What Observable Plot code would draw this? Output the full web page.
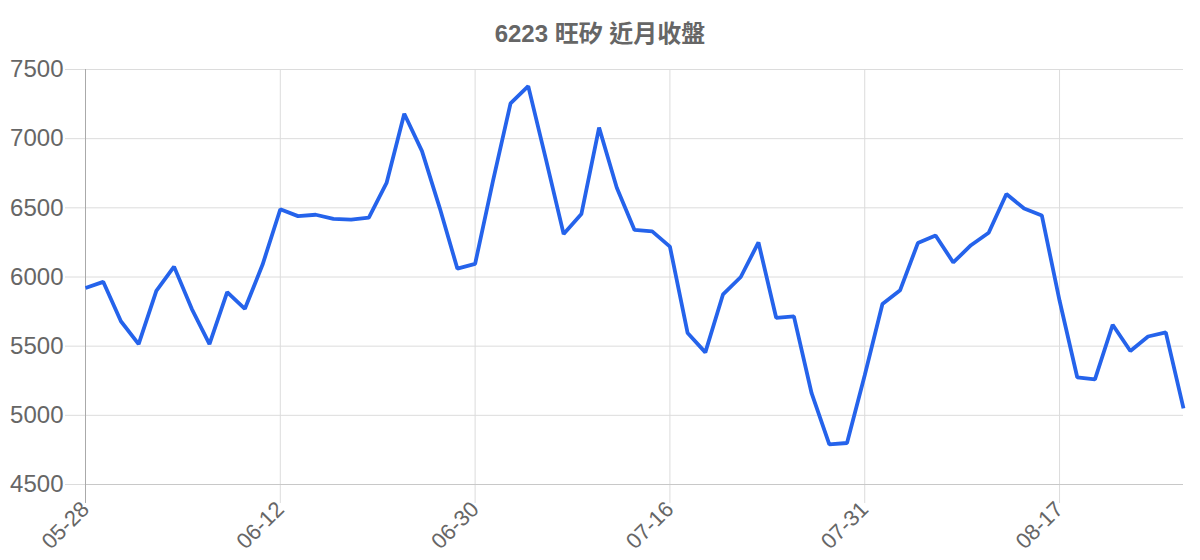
<!DOCTYPE html>
<html>
<head>
<meta charset="utf-8">
<script src="https://cdn.jsdelivr.net/npm/d3@7"></script>
<script src="https://cdn.jsdelivr.net/npm/@observablehq/plot@0.6"></script>
<style>
  html, body { margin: 0; padding: 0; background: #fff; }
  #title {
    height: 50px; box-sizing: border-box; padding-top: 21px;
    text-align: center; font: bold 24px/26px "Liberation Sans", Arial, "Noto Sans CJK TC", sans-serif;
    color: #666;
  }
  #chart svg { display: block; overflow: visible; }
</style>
</head>
<body>
<div id="title">6223 旺矽 近月收盤</div>
<div id="chart"></div>
<script>
// Closing prices (63 trading sessions)
const closes = [
  5920, 5965, 5680, 5515, 5900, 6075, 5770, 5515, 5890, 5770, 6090,
  6490, 6440, 6450, 6420, 6415, 6430, 6680, 7180, 6910, 6500, 6060,
  6095, 6690, 7255, 7380, 6850, 6310, 6455, 7080, 6645, 6340, 6330,
  6220, 5595, 5455, 5875, 6000, 6250, 5705, 5715, 5160, 4790, 4800,
  5290, 5805, 5905, 6245, 6300, 6105, 6230, 6320, 6600, 6495, 6445,
  5830, 5275, 5260, 5655, 5465, 5570, 5600, 5050
];
// x tick labels and the session index they sit on
const xTickLabels = ["05-28", "06-12", "06-30", "07-16", "07-31", "08-17"];
const xTickIndex = [0, 11, 22, 33, 44, 55];
const yTicks = [4500, 5000, 5500, 6000, 6500, 7000, 7500];

const data = closes.map((v, i) => ({i, v}));
const labelOf = new Map(xTickIndex.map((k, j) => [k, xTickLabels[j]]));

const chart = Plot.plot({
  width: 1200,
  height: 510,
  marginTop: 19,
  marginBottom: 76,
  marginLeft: 85,
  marginRight: 17,
  style: {fontFamily: "'Liberation Sans', Arial, 'Noto Sans CJK TC', sans-serif", background: "#fff"},
  x: {type: "linear", domain: [0, closes.length - 1], label: null},
  y: {domain: [4500, 7500], label: null},
  marks: [
    Plot.gridY(yTicks, {stroke: "#dcdcdc", strokeOpacity: 1}),
    Plot.gridX(xTickIndex, {stroke: "#dcdcdc", strokeOpacity: 1}),
    Plot.axisY(yTicks, {label: null, tickSize: 20, tickPadding: 2, stroke: "#dcdcdc", fill: "#666", fontSize: 24, tickFormat: d => String(d)}),
    Plot.axisX(xTickIndex, {label: null, tickSize: 19, tickPadding: 2, stroke: "#dcdcdc", fill: "#666", fontSize: 22, tickRotate: -45, tickFormat: i => labelOf.get(i)}),
    Plot.ruleY([4500], {stroke: "#c8c8c8"}),
    Plot.ruleX([0], {stroke: "#aaa"}),
    Plot.axisX([0], {label: null, tickSize: 19, stroke: "#aaa", tickFormat: () => ""}),
    Plot.lineY(data, {x: "i", y: "v", stroke: "#2563eb", strokeWidth: 3.8, strokeLinejoin: "miter", strokeLinecap: "butt"})
  ]
});
document.getElementById("chart").appendChild(chart);
</script>
</body>
</html>
